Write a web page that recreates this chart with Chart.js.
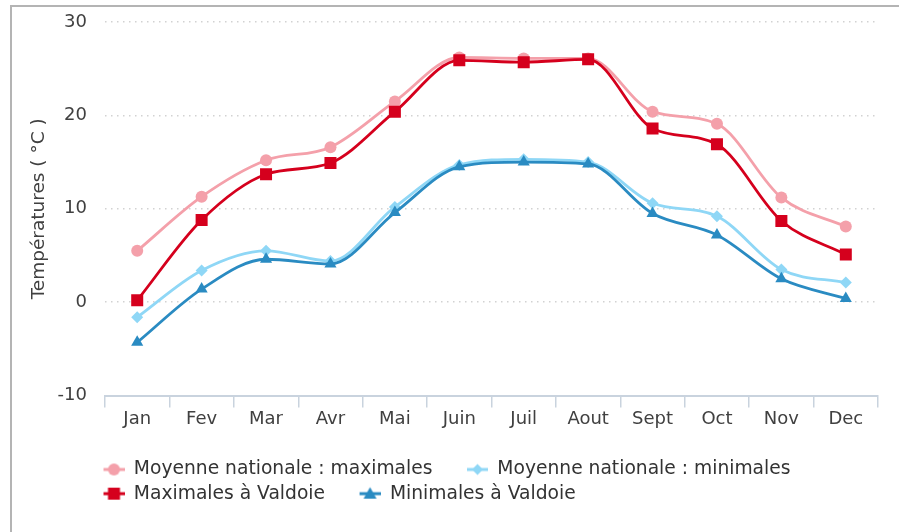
<!DOCTYPE html>
<html lang="fr">
<head>
<meta charset="UTF-8" />
<title>Températures</title>
<style>
  body { margin: 0; background: #fff; overflow: hidden; }
  #cadre { position: absolute; left: 10px; top: 5px; width: 887px; height: 525px;
           border-left: 2px solid #b4b4b4; border-top: 2px solid #b4b4b4;
           border-right: 0; border-bottom: 0; }
</style>
</head>
<body>
<div id="cadre"><canvas id="myChart" width="887" height="525"></canvas></div>

<script src="https://cdn.jsdelivr.net/npm/chart.js@4.4.0/dist/chart.umd.min.js"></script>
<script>
const mois = ["Jan", "Fev", "Mar", "Avr", "Mai", "Juin", "Juil", "Aout", "Sept", "Oct", "Nov", "Dec"];
const moyNatMax = [5.5, 11.3, 15.2, 16.6, 21.5, 26.2, 26.1, 26.1, 20.4, 19.1, 11.2, 8.1];
const moyNatMin = [-1.6, 3.4, 5.5, 4.4, 10.2, 14.7, 15.3, 15.0, 10.6, 9.2, 3.5, 2.1];
const maxValdoie = [0.2, 8.8, 13.7, 14.9, 20.4, 25.9, 25.7, 26.0, 18.6, 16.9, 8.7, 5.1];
const minValdoie = [-4.3, 1.4, 4.6, 4.1, 9.6, 14.5, 15.0, 14.8, 9.5, 7.2, 2.5, 0.4];
const yTicks = [-10, 0, 10, 20, 30];

const police = "'DejaVu Sans', sans-serif";

// petites icônes de légende : trait + marqueur
function icone(couleur, forme) {
  const c = document.createElement("canvas");
  c.width = 50; c.height = 18;
  const g = c.getContext("2d");
  g.strokeStyle = couleur; g.fillStyle = couleur; g.lineWidth = 3;
  g.beginPath(); g.moveTo(29, 9); g.lineTo(50, 9); g.stroke();
  const x = 39.5, y = 9;
  g.beginPath();
  if (forme === "circle") g.arc(x, y, 6, 0, Math.PI * 2);
  if (forme === "rect") g.rect(x - 6, y - 6, 12, 12);
  if (forme === "rectRot") { g.moveTo(x, y - 5.5); g.lineTo(x + 5.5, y); g.lineTo(x, y + 5.5); g.lineTo(x - 5.5, y); }
  if (forme === "triangle") { g.moveTo(x, y - 6.5); g.lineTo(x + 6.5, y + 5); g.lineTo(x - 6.5, y + 5); }
  g.closePath(); g.fill();
  return c;
}

const series = [
  { label: "Moyenne nationale : maximales", data: moyNatMax, couleur: "#f4a0aa", forme: "circle", r: 6, ordre: 2 },
  { label: "Moyenne nationale : minimales", data: moyNatMin, couleur: "#8fd7f6", forme: "rectRot", r: 6, ordre: 2 },
  { label: "Maximales à Valdoie", data: maxValdoie, couleur: "#d5001d", forme: "rect", r: 8.5, ordre: 1 },
  { label: "Minimales à Valdoie", data: minValdoie, couleur: "#2a8bc2", forme: "triangle", r: 7, ordre: 1 }
];

const decaleLegende = {
  id: "decaleLegende",
  afterLayout(chart) { chart.legend.left += 57; }
};

const ctx = document.getElementById("myChart").getContext("2d");
const myChart = new Chart(ctx, {
  type: "line",
  data: {
    labels: mois,
    datasets: series.map((s) => ({
      label: s.label,
      data: s.data,
      borderColor: s.couleur,
      backgroundColor: s.couleur,
      pointBackgroundColor: s.couleur,
      pointBorderColor: s.couleur,
      pointBorderWidth: 0,
      pointStyle: s.forme,
      pointRadius: s.r,
      borderWidth: 2.8,
      cubicInterpolationMode: "monotone",
      order: s.ordre,
      icone: icone(s.couleur, s.forme)
    }))
  },
  plugins: [decaleLegende],
  options: {
    responsive: false,
    animation: false,
    layout: { padding: { top: 15, right: 21, bottom: 19, left: 0 } },
    plugins: {
      tooltip: { enabled: false },
      legend: {
        position: "bottom",
        align: "start",
        labels: {
          usePointStyle: true,
          pointStyleWidth: 50,
          padding: 5.5,
          color: "#333",
          font: { family: police, size: 18.7 },
          sort: (a, b) => a.datasetIndex - b.datasetIndex,
          generateLabels(chart) {
            const items = Chart.defaults.plugins.legend.labels.generateLabels(chart);
            items.forEach((it) => { it.pointStyle = chart.data.datasets[it.datasetIndex].icone; });
            return items;
          }
        }
      }
    },
    scales: {
      x: {
        offset: true,
        afterFit(scale) { scale.height = 59; },
        grid: { offset: true, drawOnChartArea: false, drawTicks: true, tickLength: 12, color: "#c9d3de", lineWidth: 1.5 },
        border: { color: "#c9d3de", width: 2 },
        ticks: { padding: 1, color: "#404040", font: { family: police, size: 18 } }
      },
      y: {
        min: -10,
        max: 30,
        afterFit(scale) { scale.width = 93; },
        afterBuildTicks(scale) { scale.ticks = yTicks.map((v) => ({ value: v })); },
        grid: { drawTicks: true, tickLength: 16, tickColor: "rgba(0,0,0,0)", color: "#d2d2d2", lineWidth: 1.5 },
        border: { display: false, dash: [1.5, 4.5] },
        ticks: { padding: 2, color: "#404040", font: { family: police, size: 18 } },
        title: {
          display: true,
          text: "Températures ( °C )",
          color: "#404040",
          font: { family: police, size: 18.5 },
          padding: { top: 16, bottom: 0 }
        }
      }
    }
  }
});
</script>
</body>
</html>
